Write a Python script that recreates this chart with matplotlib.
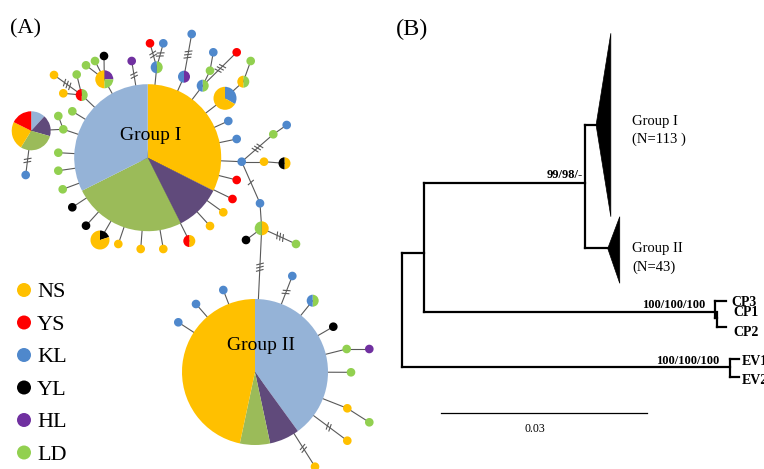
import matplotlib.pyplot as plt
import numpy as np
from matplotlib.patches import Circle, Polygon, Wedge

W, H = 764, 469

# ---- haplotype network data ------------------------------------------------
POPS = ["NS", "YS", "KL", "YL", "HL", "LD"]
POP_COLORS = {"NS": "#FFC000", "YS": "#FF0000", "KL": "#4F88CC",
              "YL": "#000000", "HL": "#7030A0", "LD": "#92D050"}
# softer shades used on the large pies
BIG_COLORS = {"NS": "#FFC000", "YS": "#FF0000", "KL": "#95B3D7",
              "YL": "#000000", "HL": "#604A7B", "LD": "#9BBB59"}

# composition of each haplotype, listed clockwise from 12 o'clock
HAP_COMP = [
    [("NS", 35), ("HL", 11), ("LD", 27), ("KL", 35)],          # 0 Group I
    [("KL", 12), ("HL", 2), ("LD", 2), ("NS", 14)],            # 1 Group II
    [("KL", 1), ("NS", 2)], [("LD", 1), ("NS", 1)], [("LD", 1)],
    [("LD", 1), ("KL", 1)], [("LD", 1)], [("KL", 1)], [("YS", 1)],
    [("HL", 1), ("KL", 1)], [("KL", 1)],
    [("LD", 1), ("KL", 1)], [("YS", 1)], [("KL", 1)], [("HL", 1)],
    [("HL", 1), ("LD", 1), ("NS", 2)], [("YL", 1)], [("LD", 1)], [("LD", 1)],
    [("LD", 1), ("YS", 1)], [("LD", 1)], [("NS", 1)], [("NS", 1)],
    [("KL", 2), ("HL", 3), ("LD", 5), ("NS", 4), ("YS", 3)],   # 23
    [("KL", 1)], [("LD", 1)], [("LD", 1)], [("LD", 1)], [("LD", 1)],
    [("LD", 1)], [("LD", 1)],
    [("YL", 1)], [("YL", 1)], [("YL", 1), ("NS", 4)], [("NS", 1)],
    [("NS", 1)], [("NS", 1)], [("NS", 1), ("YS", 1)], [("NS", 1)],
    [("NS", 1)], [("YS", 1)], [("YS", 1)],
    [("KL", 1)], [("KL", 1)], [("KL", 1)], [("NS", 1)],
    [("NS", 1), ("YL", 1)], [("LD", 1)], [("KL", 1)], [("KL", 1)],
    [("NS", 1), ("LD", 1)], [("YL", 1)], [("LD", 1)],
    [("KL", 1)], [("LD", 1), ("KL", 1)], [("YL", 1)], [("LD", 1)],
    [("HL", 1)], [("LD", 1)], [("NS", 1)], [("LD", 1)], [("NS", 1)],
    [("NS", 1)], [("KL", 1)], [("KL", 1)], [("KL", 1)],
]

# (from, to, mutation steps)
LINKS = [
    (0, 2, 0), (2, 3, 0), (3, 4, 0), (0, 5, 0), (5, 6, 0), (6, 7, 0),
    (5, 8, 3), (0, 9, 0), (9, 10, 3), (0, 11, 0), (11, 12, 2), (11, 13, 2),
    (0, 14, 2), (0, 15, 0), (15, 16, 0), (15, 17, 0), (15, 18, 0),
    (0, 19, 0), (19, 20, 0), (19, 21, 0), (19, 22, 3),
    (0, 25, 0), (25, 23, 0), (25, 26, 0), (23, 24, 2), (0, 27, 0),
    (0, 28, 0), (0, 29, 0), (0, 30, 0), (0, 31, 0), (0, 32, 0), (0, 33, 0),
    (0, 34, 0), (0, 35, 0), (0, 36, 0), (0, 37, 0), (0, 38, 0), (0, 39, 0),
    (0, 40, 0), (0, 41, 0), (0, 42, 0), (0, 43, 0), (0, 44, 0),
    (44, 45, 0), (45, 46, 0), (44, 47, 3), (47, 48, 0), (44, 49, 1),
    (49, 50, 0), (50, 51, 0), (50, 52, 3), (50, 1, 3),
    (1, 53, 2), (1, 54, 0), (1, 55, 0), (1, 56, 0), (56, 57, 0), (1, 58, 0),
    (1, 59, 0), (59, 60, 0), (1, 61, 2), (1, 62, 2), (1, 63, 0), (1, 64, 0),
    (1, 65, 0),
]

# ---- network layout (pixel positions / radii) -------------------------------
HAP_XY = [
    (147.7, 157.7), (255.0, 372.0),
    (225.0, 98.3), (243.3, 81.7), (250.7, 61.0),
    (202.7, 85.7), (210.0, 70.7), (213.3, 52.3), (236.7, 52.3),
    (184.0, 76.7), (191.7, 34.0),
    (156.7, 67.3), (150.0, 43.3), (163.3, 43.3), (131.7, 61.0),
    (104.3, 79.3), (104.0, 56.0), (95.0, 61.0), (86.0, 65.3),
    (81.7, 95.0), (76.7, 74.5), (63.3, 93.3), (54.0, 75.0),
    (31.2, 130.8),
    (25.7, 175.0), (63.3, 129.3), (58.3, 116.0), (72.3, 111.3), (58.3, 152.7),
    (58.3, 170.7), (62.7, 189.3),
    (72.3, 207.3), (86.0, 225.7), (100.0, 240.0), (118.3, 244.0),
    (140.7, 249.0), (163.3, 249.0), (189.3, 241.0), (210.0, 226.0),
    (223.3, 212.3), (232.5, 199.0), (236.7, 180.0),
    (236.7, 139.0), (228.3, 121.0), (241.7, 161.7), (264.0, 161.7),
    (284.5, 163.3), (273.3, 134.3), (286.7, 125.0), (260.0, 203.3),
    (261.7, 228.3), (246.0, 240.0), (296.0, 244.0),
    (292.3, 276.0), (312.7, 300.7), (333.3, 326.7), (346.7, 349.0),
    (369.3, 349.0), (351.0, 372.3), (347.3, 408.3), (369.3, 422.3),
    (347.3, 440.7), (315.0, 466.7), (223.3, 290.0), (196.0, 304.0),
    (178.3, 322.3),
]
SIZE_BY_NODE = {0: 73.5, 1: 73.0, 2: 11.5, 15: 9.0, 23: 19.5, 33: 9.5, 50: 7.0}
SMALL_R, PAIR_R = 4.3, 6.0

SERIF = "Liberation Serif"


def node_radius(i):
    if i in SIZE_BY_NODE:
        return SIZE_BY_NODE[i]
    return PAIR_R if len(HAP_COMP[i]) > 1 else SMALL_R


def draw_pie(ax, xy, r, comp, palette):
    total = sum(c for _, c in comp)
    start = -90.0  # y axis is inverted: -90 is 12 o'clock, growing clockwise
    for pop, c in comp:
        span = 360.0 * c / total
        ax.add_patch(Wedge(xy, r, start, start + span, facecolor=palette[pop],
                           edgecolor="none", zorder=3))
        start += span


def draw_link(ax, i, j, steps):
    a, b = np.array(HAP_XY[i]), np.array(HAP_XY[j])
    ax.plot([a[0], b[0]], [a[1], b[1]], color="#595959", lw=0.8, zorder=1)
    if steps == 0:
        return
    d = b - a
    u = d / np.linalg.norm(d)
    p0, p1 = a + u * node_radius(i), b - u * node_radius(j)
    mid = (p0 + p1) / 2
    perp = np.array([-u[1], u[0]])
    for k in range(steps):
        c = mid + u * (k - (steps - 1) / 2) * 3.2
        q0, q1 = c - perp * 3.2 - u * 1.0, c + perp * 3.2 + u * 1.0
        ax.plot([q0[0], q1[0]], [q0[1], q1[1]], color="#595959", lw=0.8, zorder=1)


# ---- tree data --------------------------------------------------------------
BRANCH_LEN = {"inner": 0.0032, "groups": 0.02355, "g1": 0.0016, "g2": 0.0033,
              "g1_depth": 0.00215, "g2_depth": 0.00175, "cp": 0.0425,
              "cp3": 0.0016, "cp_sub": 0.0003, "cp2": 0.0013, "ev": 0.0479,
              "ev_tip": 0.0013}
SUPPORT = ["99/98/-", "100/100/100", "100/100/100"]
CLADES = [("Group I", 113), ("Group II", 43)]
SCALE_LEN = 0.03

fig = plt.figure(figsize=(W / 100, H / 100), dpi=100)
ax = fig.add_axes([0, 0, 1, 1])
ax.set_xlim(0, W)
ax.set_ylim(H, 0)
ax.axis("off")

# ---- panel A ----------------------------------------------------------------
for i, j, steps in LINKS:
    draw_link(ax, i, j, steps)
for i, comp in enumerate(HAP_COMP):
    r = node_radius(i)
    draw_pie(ax, HAP_XY[i], r, comp, BIG_COLORS if r > 15 else POP_COLORS)

ax.text(150.5, 139.5, "Group I", family=SERIF, fontsize=14, ha="center",
        va="baseline", zorder=5)
ax.text(261, 349.5, "Group II", family=SERIF, fontsize=14, ha="center",
        va="baseline", zorder=5)

for k, pop in enumerate(POPS):
    y = 290 + k * 32.5
    ax.add_patch(Circle((24, y), 7, facecolor=POP_COLORS[pop], edgecolor="none"))
    ax.text(37, y + 7.3, pop, family=SERIF, fontsize=16, va="baseline")

ax.text(10, 33, "(A)", family=SERIF, fontsize=16, va="baseline")
ax.text(396, 35, "(B)", family=SERIF, fontsize=17.5, va="baseline")

# ---- panel B ----------------------------------------------------------------
px = (646.7 - 441.0) / SCALE_LEN
x_root = 401.7
x_inner = x_root + BRANCH_LEN["inner"] * px
x_groups = x_inner + BRANCH_LEN["groups"] * px
x_g1 = x_groups + BRANCH_LEN["g1"] * px
x_g2 = x_groups + BRANCH_LEN["g2"] * px
x_cp = x_inner + BRANCH_LEN["cp"] * px
x_cpsub = x_cp + BRANCH_LEN["cp_sub"] * px
x_ev = x_root + BRANCH_LEN["ev"] * px

y_g1, y_g2 = 125.0, 248.5
y_groups = 183.3
y_cp = 311.7
y_inner = 253.3
y_ev = 366.7
y_cp3, y_cpsub, y_cp1, y_cp2 = 300.7, 318.0, 312.0, 327.5
y_ev1, y_ev2 = 359.0, 377.0

tk = dict(color="black", lw=1.6, solid_capstyle="projecting", zorder=2)
ax.plot([x_root, x_root], [y_inner, y_ev], **tk)
ax.plot([x_root, x_inner], [y_inner, y_inner], **tk)
ax.plot([x_inner, x_inner], [y_groups, y_cp], **tk)
ax.plot([x_inner, x_groups], [y_groups, y_groups], **tk)
ax.plot([x_groups, x_groups], [y_g1, y_g2], **tk)
ax.plot([x_groups, x_g1], [y_g1, y_g1], **tk)
ax.plot([x_groups, x_g2], [y_g2, y_g2], **tk)
ax.plot([x_inner, x_cp], [y_cp, y_cp], **tk)
ax.plot([x_cp, x_cp], [y_cp3, y_cpsub], **tk)
ax.plot([x_cp, x_cp + BRANCH_LEN["cp3"] * px], [y_cp3, y_cp3], **tk)
ax.plot([x_cp, x_cpsub], [y_cpsub, y_cpsub], **tk)
ax.plot([x_cpsub, x_cpsub], [y_cp1, y_cp2], **tk)
ax.plot([x_cpsub, x_cpsub + BRANCH_LEN["cp2"] * px], [y_cp2, y_cp2], **tk)
ax.plot([x_root, x_ev], [y_ev, y_ev], **tk)
ax.plot([x_ev, x_ev], [y_ev1, y_ev2], **tk)
ax.plot([x_ev, x_ev + BRANCH_LEN["ev_tip"] * px], [y_ev1, y_ev1], **tk)
ax.plot([x_ev, x_ev + BRANCH_LEN["ev_tip"] * px], [y_ev2, y_ev2], **tk)

g1_tip = x_g1 + BRANCH_LEN["g1_depth"] * px
g2_tip = x_g2 + BRANCH_LEN["g2_depth"] * px
ax.add_patch(Polygon([(x_g1, y_g1), (g1_tip, 33.3), (g1_tip, 216.7)],
                     closed=True, facecolor="black", edgecolor="black", lw=0.5))
ax.add_patch(Polygon([(x_g2, y_g2), (g2_tip, 216.7), (g2_tip, 283.3)],
                     closed=True, facecolor="black", edgecolor="black", lw=0.5))

for (name, n), yb in zip(CLADES, [(124.7, 142.4), (252.4, 270.7)]):
    ax.text(632.5, yb[0], name, family=SERIF, fontsize=10.5, va="baseline")
    label = f"(N={n} )" if n == 113 else f"(N={n})"
    ax.text(632.5, yb[1], label, family=SERIF, fontsize=10.5, va="baseline")

bold = dict(family=SERIF, fontsize=9, fontweight="bold", va="baseline", ha="right")
ax.text(582.7, 177.7, SUPPORT[0], **bold)
ax.text(705.0, 308.5, SUPPORT[1], **bold)
ax.text(719.3, 364.0, SUPPORT[2], **bold)

tip = dict(family=SERIF, fontsize=10, fontweight="bold", va="baseline")
ax.text(731.7, 306.0, "CP3", **tip)
ax.text(733.5, 316.5, "CP1", **tip)
ax.text(733.5, 336.0, "CP2", **tip)
ax.text(741.5, 365.0, "EV1", **tip)
ax.text(741.5, 384.0, "EV2", **tip)

ax.plot([441.0, 441.0 + SCALE_LEN * px], [413.3, 413.3], color="black", lw=0.9)
ax.text(441.0 + SCALE_LEN * px / 2 - 9, 432, f"{SCALE_LEN}", family=SERIF,
        fontsize=8.5, ha="center", va="baseline")

fig.savefig("out.png", dpi=100)
